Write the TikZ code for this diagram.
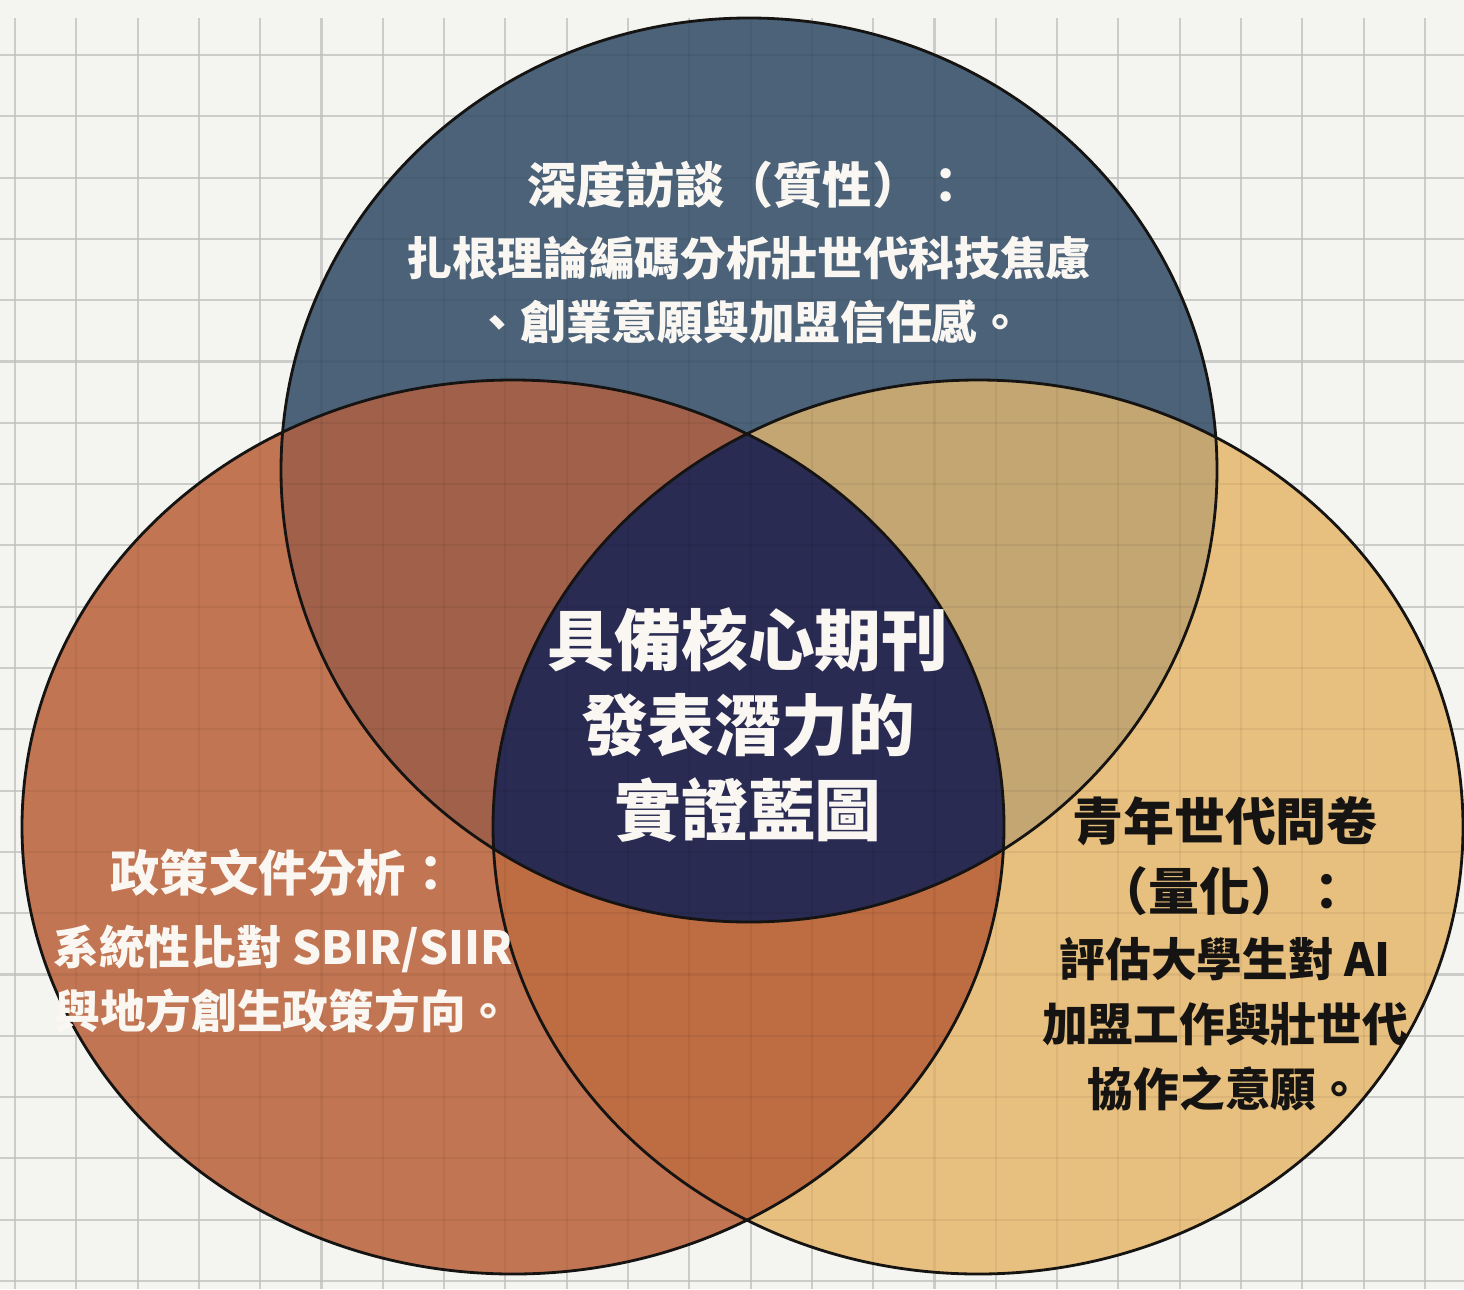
\documentclass[tikz,border=0pt]{standalone}
\usepackage{fontspec}
\usepackage{tikz}
\usetikzlibrary{positioning}
\newfontfamily\cjk{Noto Sans CJK TC}
\definecolor{paperbg}{RGB}{244,244,240}
\definecolor{gridgray}{RGB}{216,216,214}
\definecolor{slateblue}{RGB}{75,98,121}
\definecolor{terracotta}{RGB}{194,117,83}
\definecolor{sandtan}{RGB}{231,191,126}
\definecolor{rustmix}{RGB}{160,96,74}
\definecolor{oliveten}{RGB}{196,166,114}
\definecolor{copperorange}{RGB}{190,108,66}
\definecolor{corenavy}{RGB}{42,43,82}
\definecolor{inkblack}{RGB}{22,20,18}
\definecolor{softwhite}{RGB}{250,247,242}
% the three rings
\newcommand{\topring}{(7.49,8.19) ellipse [x radius=4.68, y radius=4.52]}
\newcommand{\leftring}{(5.13,4.62) ellipse [x radius=4.91, y radius=4.47]}
\newcommand{\rightring}{(9.78,4.62) ellipse [x radius=4.85, y radius=4.47]}
\tikzset{
  gridline/.style={draw=gridgray, line width=0.6pt},
  ringline/.style={draw=inkblack, line width=0.8pt},
  headwhite/.style={text=softwhite, font=\cjk\bfseries\fontsize{14}{20}\selectfont, align=center},
  bodywhite/.style={text=softwhite, font=\cjk\bfseries\fontsize{13}{18.2}\selectfont, align=center},
  headblack/.style={text=inkblack, font=\cjk\bfseries\fontsize{14.5}{20}\selectfont, align=center},
  bodyblack/.style={text=inkblack, font=\cjk\bfseries\fontsize{13}{18.4}\selectfont, align=center},
  corelabel/.style={text=softwhite, font=\cjk\bfseries\fontsize{19}{24.2}\selectfont, align=center}
}
\begin{document}
\begin{tikzpicture}
  % paper and grid
  \useasboundingbox (0,0) rectangle (14.64,12.89);
  \fill[paperbg] (0,0) rectangle (14.64,12.89);
  \foreach \i in {0,...,23}
    \draw[gridline] ({(15+61.3*\i)/100},0) -- ({(15+61.3*\i)/100},12.71);
  \foreach \j in {0,...,20}
    \draw[gridline] (0,{(1234-61.3*\j)/100}) -- (14.64,{(1234-61.3*\j)/100});

  % single rings
  \fill[slateblue] \topring;
  \fill[terracotta] \leftring;
  \fill[sandtan] \rightring;

  % overlaps
  \begin{scope}
    \clip \topring;
    \fill[rustmix] \leftring;
    \fill[oliveten] \rightring;
  \end{scope}
  \begin{scope}
    \clip \leftring;
    \fill[copperorange] \rightring;
    \clip \rightring;
    \fill[corenavy] \topring;
  \end{scope}

  % grid shows faintly through the fills
  \foreach \i in {0,...,23}
    \draw[black, opacity=0.05, line width=0.6pt] ({(15+61.3*\i)/100},0) -- ({(15+61.3*\i)/100},12.71);
  \foreach \j in {0,...,20}
    \draw[black, opacity=0.05, line width=0.6pt] (0,{(1234-61.3*\j)/100}) -- (14.64,{(1234-61.3*\j)/100});

  \draw[ringline] \topring;
  \draw[ringline] \leftring;
  \draw[ringline] \rightring;

  % labels
  \node[headwhite] (interview) at (7.49,11.04) {深度訪談（質性）：};
  \node[bodywhite] (interviewtxt) at (7.49,9.99) {扎根理論編碼分析壯世代科技焦慮\\、創業意願與加盟信任感。};

  \node[corelabel] (core) at (7.48,5.64) {具備核心期刊\\發表潛力的\\實證藍圖};

  \node[headwhite] (policy) at (2.83,4.16) {政策文件分析：};
  \node[bodywhite] (policytxt) at (2.83,3.10) {系統性比對 SBIR/SIIR\\與地方創生政策方向。};

  \node[headblack] (survey) at (12.25,4.33) {青年世代問卷\\（量化）：};
  \node[bodyblack] (surveytxt) at (12.25,2.65) {評估大學生對 AI\\加盟工作與壯世代\\協作之意願。};
\end{tikzpicture}
\end{document}
